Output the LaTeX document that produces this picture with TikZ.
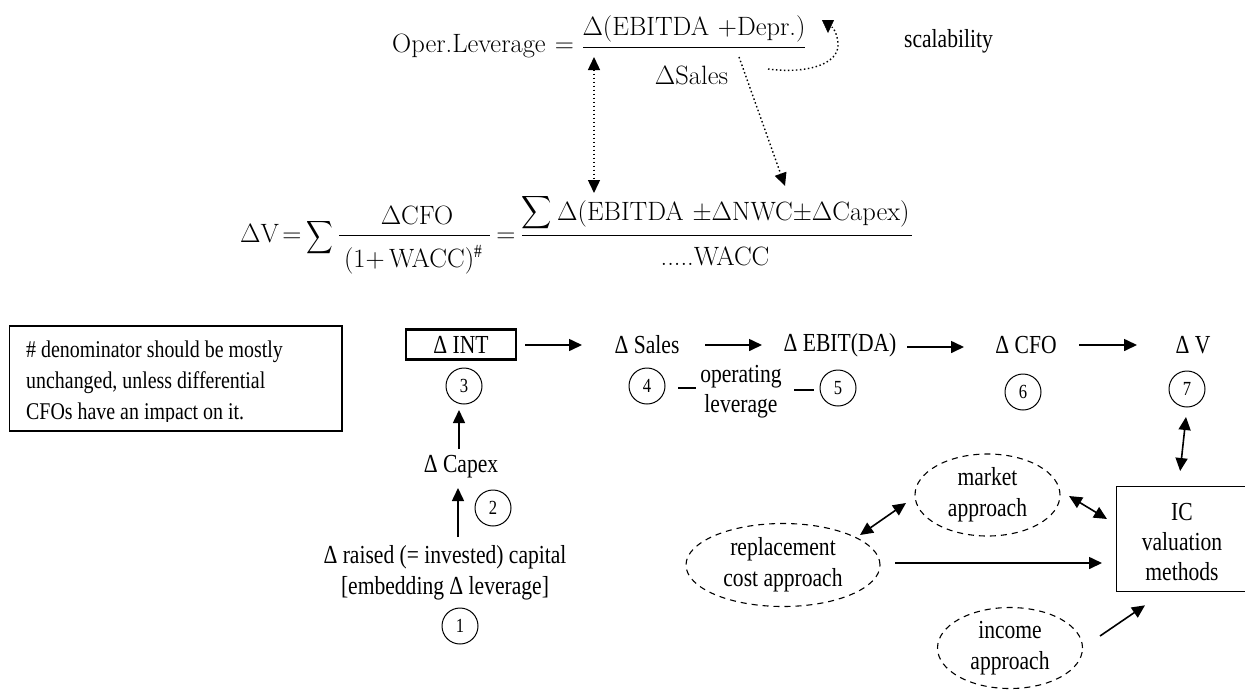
\documentclass[tikz,border=0pt]{standalone}
\usepackage{graphicx}
\usepackage{fontspec}
\setmainfont[FakeStretch=0.83]{Liberation Serif}
\newfontfamily\lmfont{Latin Modern Roman}
\usetikzlibrary{arrows.meta,shapes.geometric}
\tikzset{
 x=1pt,y=-1pt,
 tip/.style={-{Triangle[length=13pt,width=12pt]}},
 dtip/.style={{Triangle[length=13pt,width=12pt]}-{Triangle[length=13pt,width=12pt]}},
 conn/.style={line width=1.6pt,tip},
 dconn/.style={line width=1.6pt,dtip},
 dotconn/.style={line width=1.4pt,dash pattern=on 1.5pt off 2.5pt},
 lbl/.style={inner sep=0pt,font=\fontsize{26}{30}\selectfont,align=center},
 notetxt/.style={inner sep=0pt,font=\fontsize{24}{30}\selectfont,anchor=west},
 frm/.style={inner sep=0pt,anchor=base,font=\fontsize{26.5}{26.5}\lmfont},
 sigma/.style={inner sep=0pt},
 num/.style={circle,draw,line width=1pt,minimum size=36pt,inner sep=0pt,font=\fontsize{20}{20}\selectfont},
 appr/.style={ellipse,draw,dash pattern=on 6pt off 5pt,line width=1.1pt,inner sep=0pt,font=\fontsize{26}{31}\selectfont,align=center},
 bar/.style={line width=1.3pt},
}
\begin{document}
\begin{tikzpicture}
\useasboundingbox (0,0) rectangle (1245,689);
% formula 1
\node[frm,anchor=base west] (oper) at (392,52) {Oper.Leverage};
\node[frm] (eq1) at (564.5,52) {=};
\node[frm] (f1n) at (694,35) {Δ(EBITDA\,\,+Depr.)};
\node[frm] (f1d) at (691.5,84) {ΔSales};
\coordinate (b1a) at (583,47.5);
\coordinate (b1b) at (805,47.5);
\draw[bar] (b1a) -- (b1b);
\node[lbl,anchor=base] (scal) at (948.5,47) {scalability};
% formula 2
\node[frm,anchor=base west] (dv) at (240,242) {ΔV};
\node[frm] (eq2) at (292,242) {=};
\node[sigma] (sum1) at (320,237.5) {\scalebox{1.85}[2.3]{$\displaystyle\sum$}};
\node[frm] (f2a) at (417,224) {ΔCFO};
\node[frm] (f2b) at (414,267) {(1+\,WACC)$^{\#}$};
\coordinate (b2a) at (339,235.5);
\coordinate (b2b) at (490,235.5);
\draw[bar] (b2a) -- (b2b);
\node[frm] (eq3) at (506,242) {=};
\node[sigma] (sum2) at (537,213) {\scalebox{2.1}[2.3]{$\displaystyle\sum$}};
\node[frm,anchor=base west] (f2c) at (557,220) {Δ(EBITDA\,\,±ΔNWC±ΔCapex)};
\node[frm] (f2d) at (715,265) {.....WACC};
\coordinate (b3a) at (522,235.5);
\coordinate (b3b) at (912,235.5);
\draw[bar] (b3a) -- (b3b);
% dotted
\draw[dotconn,dtip] ([shift={(-100,22)}]f1n.base) -- ([shift={(37,-27)}]f2c.base west);
\draw[dotconn,tip] ([shift={(47.5,-27)}]f1d.base) -- ([shift={(228,-34)}]f2c.base west);
\draw[dotconn] ([shift={(76.5,-15)}]f1d.base) .. controls (805,74) and (840,65) .. (838,43) .. controls (837,35) and (835,30) .. ([shift={(138,-8)}]f1n.base);
\draw[tip] ([shift={(134,-14)}]f1n.base) -- ([shift={(134,-2)}]f1n.base);
% note
\draw[line width=1.3pt] (9.5,326) rectangle (342,431);
\begin{scope}
\clip (9.5,326) rectangle (342,421);
\node[notetxt] (n1) at (26,352) {\# denominator should be mostly};
\node[notetxt] (n2) at (26,383) {unchanged, unless differential};
\node[notetxt] (n3) at (26,414) {CFOs have an impact on it.};
\end{scope}
% chain
\node[lbl,draw,line width=2.4pt,minimum width=110pt,minimum height=30pt] (int) at (461,344.5) {Δ INT};
\node[lbl] (sales) at (647,345) {Δ Sales};
\node[lbl] (ebit) at (840,345) {Δ EBIT(DA)};
\node[lbl] (cfo) at (1026,345) {Δ CFO};
\node[lbl] (v) at (1193,345) {Δ V};
\node[num] (c3) at (464,386) {3};
\node[num] (c4) at (647,386) {4};
\node[num] (c5) at (838,388) {5};
\node[num] (c6) at (1023,392) {6};
\node[num] (c7) at (1187,389) {7};
\node[num] (c2) at (493,508) {2};
\node[num] (c1) at (460,626) {1};
\node[lbl] (capex) at (461,467) {Δ Capex};
\node[lbl] (raised) at (445,557) {Δ raised (= invested) capital};
\node[lbl] (embed) at (445,588) {[embedding Δ leverage]};
\node[lbl] (opl) at (741,391.5) {operating\\leverage};
\draw[conn] ([shift={(64,0.5)}]int.center) -- ([shift={(-65,0)}]sales.center);
\draw[conn] ([shift={(58,0)}]sales.center) -- ([shift={(-78,0)}]ebit.center);
\draw[conn] ([shift={(67,2)}]ebit.center) -- ([shift={(-62,2)}]cfo.center);
\draw[conn] ([shift={(53,0)}]cfo.center) -- ([shift={(-56,0)}]v.center);
\draw[conn] ([shift={(-2,-18)}]capex.center) -- ([shift={(-5,24)}]c3.center);
\draw[conn] ([shift={(13,-20)}]raised.center) -- ([shift={(-3,21)}]capex.center);
\draw[line width=1.6pt] ([shift={(31,2)}]c4.center) -- ([shift={(-45,-3.5)}]opl.center);
\draw[line width=1.6pt] ([shift={(53,-1.5)}]opl.center) -- ([shift={(-24,2)}]c5.center);
% methods
\node[draw,line width=1.3pt,minimum width=129pt,minimum height=105pt,inner sep=0pt,anchor=north west] (ic) at (1116,486) {};
\node[lbl] (ict) at (1182,542.5) {IC\\valuation\\methods};
\node[appr,minimum width=145pt,minimum height=82pt] (mkt) at (987.5,495) {market\\approach};
\node[appr,minimum width=194pt,minimum height=83pt] (rep) at (783,565) {replacement\\cost approach};
\node[appr,minimum width=145pt,minimum height=81pt] (inc) at (1010,648) {income\\approach};
\draw[dconn] ([shift={(-1,28)}]c7.center) -- ([shift={(-1,-15)}]ic.north);
\draw[dconn] ([shift={(77,-30)}]rep.center) -- ([shift={(-81.5,8)}]mkt.center);
\draw[dconn] ([shift={(81.5,1)}]mkt.center) -- ([shift={(-9,33)}]ic.north west);
\draw[conn] ([shift={(112,-2)}]rep.center) -- ([shift={(-14,77)}]ic.north west);
\draw[conn] ([shift={(90,-12)}]inc.center) -- ([shift={(29,13)}]ic.south west);
\end{tikzpicture}
\end{document}
